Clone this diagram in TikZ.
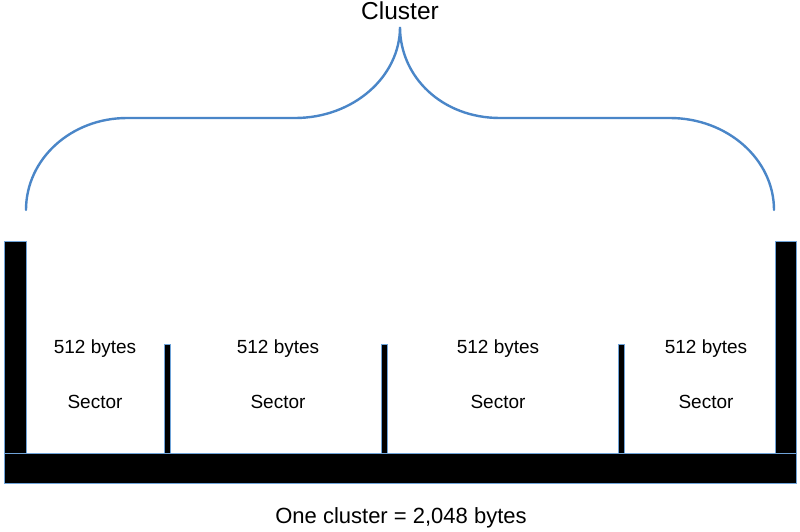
\documentclass[tikz,border=0pt]{standalone}
\usepackage{fontspec}
\setmainfont{Liberation Sans}
\definecolor{bracecol}{HTML}{4A86C8}
\definecolor{edgecol}{HTML}{6FA3D8}
\begin{document}
\begin{tikzpicture}[x=1pt,y=-1pt,
  wall/.style={fill=black,draw=edgecol,line width=0.9pt},
  lbl/.style={font=\fontsize{19}{21}\selectfont,anchor=base,inner sep=0pt},
  brace/.style={draw=bracecol,line width=2.4pt,line cap=round}]
\useasboundingbox[fill=white] (0,0) rectangle (800,531);
% title
\node[anchor=base,inner sep=0pt,font=\fontsize{24.5}{27}\selectfont] (title) at (400,19) {Cluster};
% brace
\coordinate (bl) at (26,210);
\coordinate (tip) at (400,27);
\coordinate (br) at (774,210);
\draw[brace] (bl) .. controls (26,159) and (71,118) .. (127,118)
  -- (295,118) .. controls (353,118) and (400,77) .. (tip)
  .. controls (400,77) and (442,118) .. (500,118)
  -- (670,118) .. controls (727,118) and (774,159) .. (br);
% walls
\node[wall,inner sep=0pt,minimum width=22pt,minimum height=212pt,anchor=north west] (lpost) at (4,241) {};
\node[wall,inner sep=0pt,minimum width=21pt,minimum height=212pt,anchor=north west] (rpost) at (775,241) {};
\node[wall,inner sep=0pt,minimum width=792pt,minimum height=30pt,anchor=north west] (bar) at (4,453) {};
\node[wall,inner sep=0pt,minimum width=5.5pt,minimum height=109pt,anchor=north west] (d1) at (164,344) {};
\node[wall,inner sep=0pt,minimum width=5.5pt,minimum height=109pt,anchor=north west] (d2) at (381,344) {};
\node[wall,inner sep=0pt,minimum width=5.5pt,minimum height=109pt,anchor=north west] (d3) at (618,344) {};
% labels
\node[lbl] (b1) at (95,353) {512 bytes};
\node[lbl] (b2) at (278,353) {512 bytes};
\node[lbl] (b3) at (498,353) {512 bytes};
\node[lbl] (b4) at (706,353) {512 bytes};
\node[lbl] (s1) at (95,408) {Sector};
\node[lbl] (s2) at (278,408) {Sector};
\node[lbl] (s3) at (498,408) {Sector};
\node[lbl] (s4) at (706,408) {Sector};
\node[anchor=base,inner sep=0pt,font=\fontsize{22}{24}\selectfont] (total) at (401,523) {One cluster = 2,048 bytes};
\end{tikzpicture}
\end{document}
